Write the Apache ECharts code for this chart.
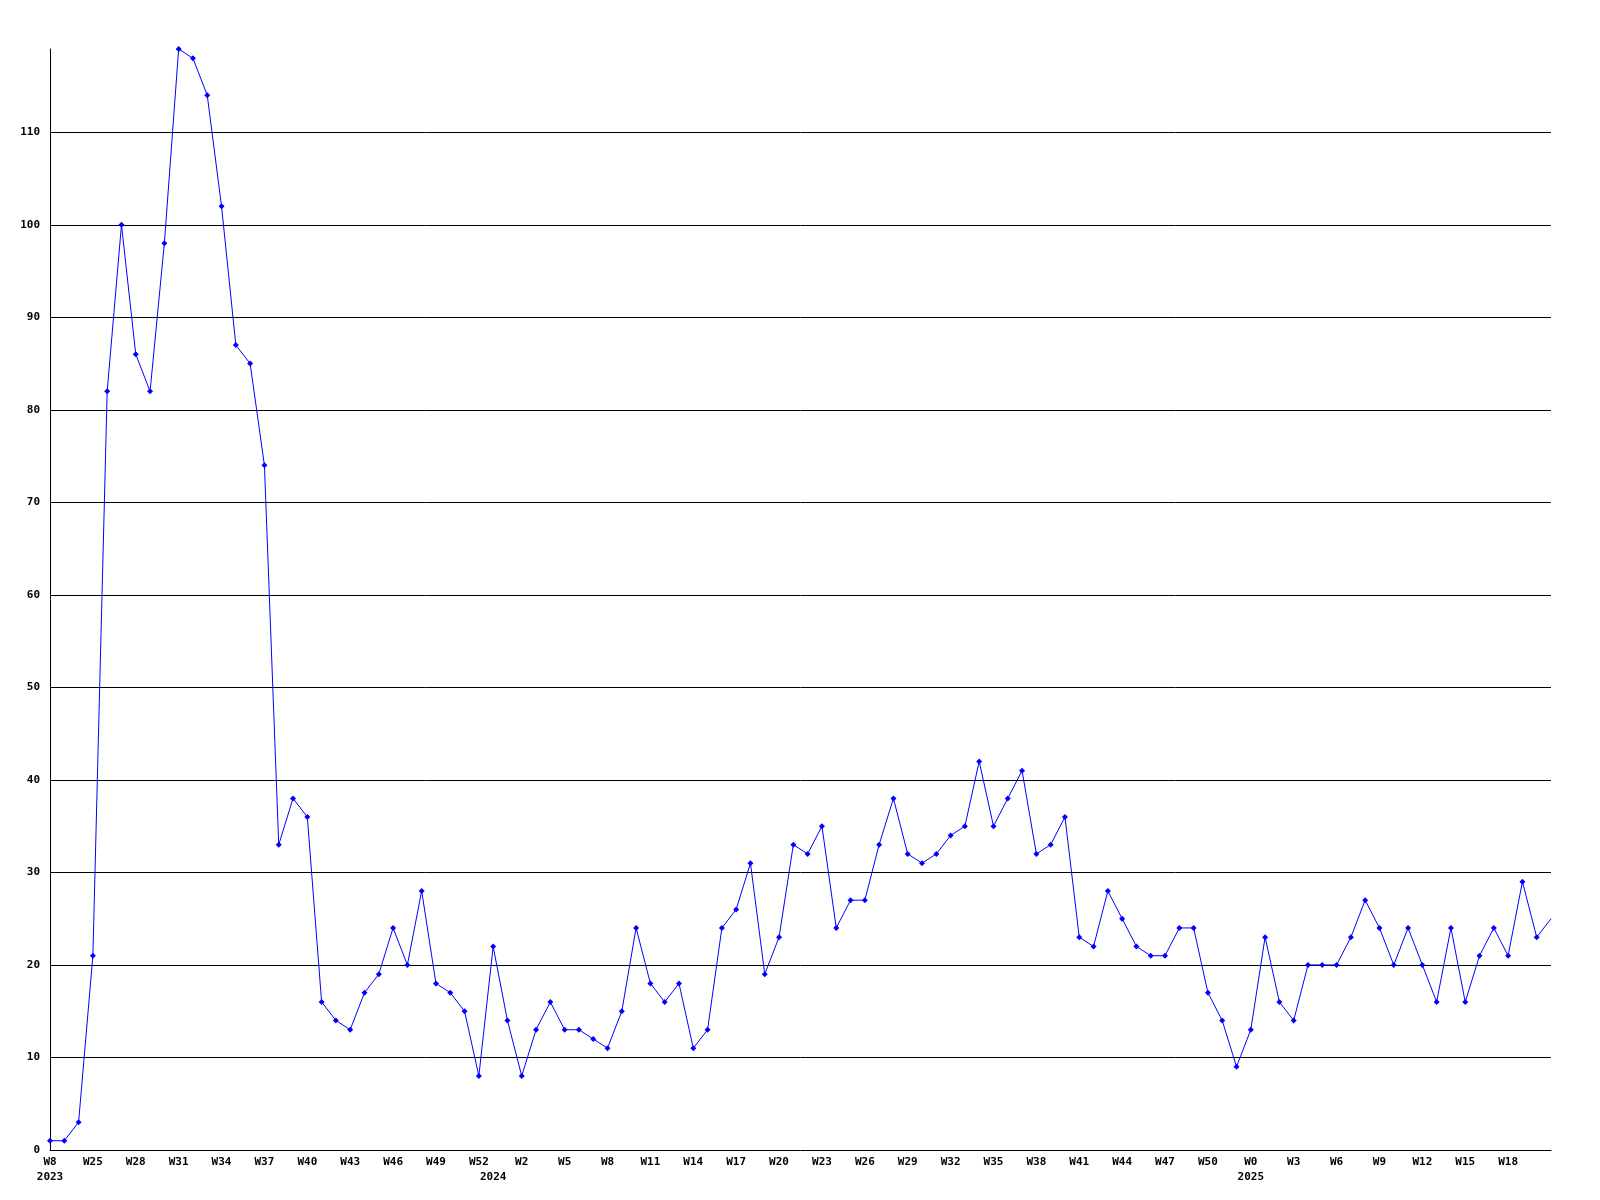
<!DOCTYPE html>
<html>
<head>
<meta charset="utf-8">
<script src="https://cdn.jsdelivr.net/npm/echarts@6/dist/echarts.min.js"></script>
<style>
html,body{margin:0;padding:0;background:#fff;}
#chart{width:1600px;height:1200px;}
</style>
</head>
<body>
<div id="chart"></div>
<script>
const weeks = [
  "W8","W23","W24","W25","W26","W27","W28","W29","W30","W31","W32","W33","W34","W35","W36","W37","W38","W39","W40","W41",
  "W42","W43","W44","W45","W46","W47","W48","W49","W50","W51","W52",
  "W0","W1","W2","W3","W4","W5","W6","W7","W8","W9","W10","W11","W12","W13","W14","W15","W16","W17","W18","W19",
  "W20","W21","W22","W23","W24","W25","W26","W27","W28","W29","W30","W31","W32","W33","W34","W35","W36","W37","W38","W39",
  "W40","W41","W42","W43","W44","W45","W46","W47","W48","W49","W50","W51","W52",
  "W0","W1","W2","W3","W4","W5","W6","W7","W8","W9","W10","W11","W12","W13","W14","W15","W16","W17","W18","W19","W20","W21"
];
const yearStarts = { 0: "2023", 31: "2024", 84: "2025" };
const values = [
  1,1,3,21,82,100,86,82,98,119,118,114,102,87,85,74,33,38,36,16,
  14,13,17,19,24,20,28,18,17,15,8,
  22,14,8,13,16,13,13,12,11,15,24,18,16,18,11,13,24,26,31,19,
  23,33,32,35,24,27,27,33,38,32,31,32,34,35,42,35,38,41,32,33,
  36,23,22,28,25,22,21,21,24,24,17,14,9,
  13,23,16,14,20,20,20,23,27,24,20,24,20,16,24,16,21,24,21,29,23,25
];
const yTickStep = 10;
const yMax = 119;

const font = '"DejaVu Sans Mono", "Liberation Mono", monospace';
const chart = echarts.init(document.getElementById('chart'), null, {renderer: 'canvas'});
const lastIdx = values.length - 1;
chart.setOption({
  animation: false,
  backgroundColor: '#ffffff',
  grid: { left: 50, right: 49, top: 49, bottom: 50, containLabel: false },
  xAxis: {
    type: 'category',
    data: weeks,
    boundaryGap: false,
    axisLine: { show: true, lineStyle: { color: '#000', width: 1 } },
    axisTick: { show: false },
    splitLine: { show: false },
    axisLabel: {
      interval: function (i) { return i !== lastIdx && (i % 3 === 0 || yearStarts[i] !== undefined); },
      formatter: function (v, i) {
        const w = (i % 3 === 0) ? v : '';
        const y = yearStarts[i] || '';
        return y ? (w + '\n' + y) : w;
      },
      color: '#000',
      fontFamily: font,
      fontWeight: 'bold',
      fontSize: 11,
      lineHeight: 15,
      margin: 5
    }
  },
  yAxis: {
    type: 'value',
    min: 0,
    max: yMax,
    interval: yTickStep,
    axisLine: { show: true, lineStyle: { color: '#000', width: 1 } },
    axisTick: { show: false },
    splitLine: { show: true, showMinLine: false, showMaxLine: false, lineStyle: { color: '#000', width: 1 } },
    axisLabel: {
      showMaxLabel: false,
      color: '#000',
      fontFamily: font,
      fontWeight: 'bold',
      fontSize: 11,
      margin: 10
    }
  },
  series: [{
    type: 'line',
    data: values,
    symbol: function (v, p) { return p.dataIndex === lastIdx ? 'none' : 'diamond'; },
    symbolSize: 6,
    showAllSymbol: true,
    lineStyle: { color: '#0000ff', width: 1 },
    itemStyle: { color: '#0000ff' },
    z: 2
  }]
});
</script>
</body>
</html>
